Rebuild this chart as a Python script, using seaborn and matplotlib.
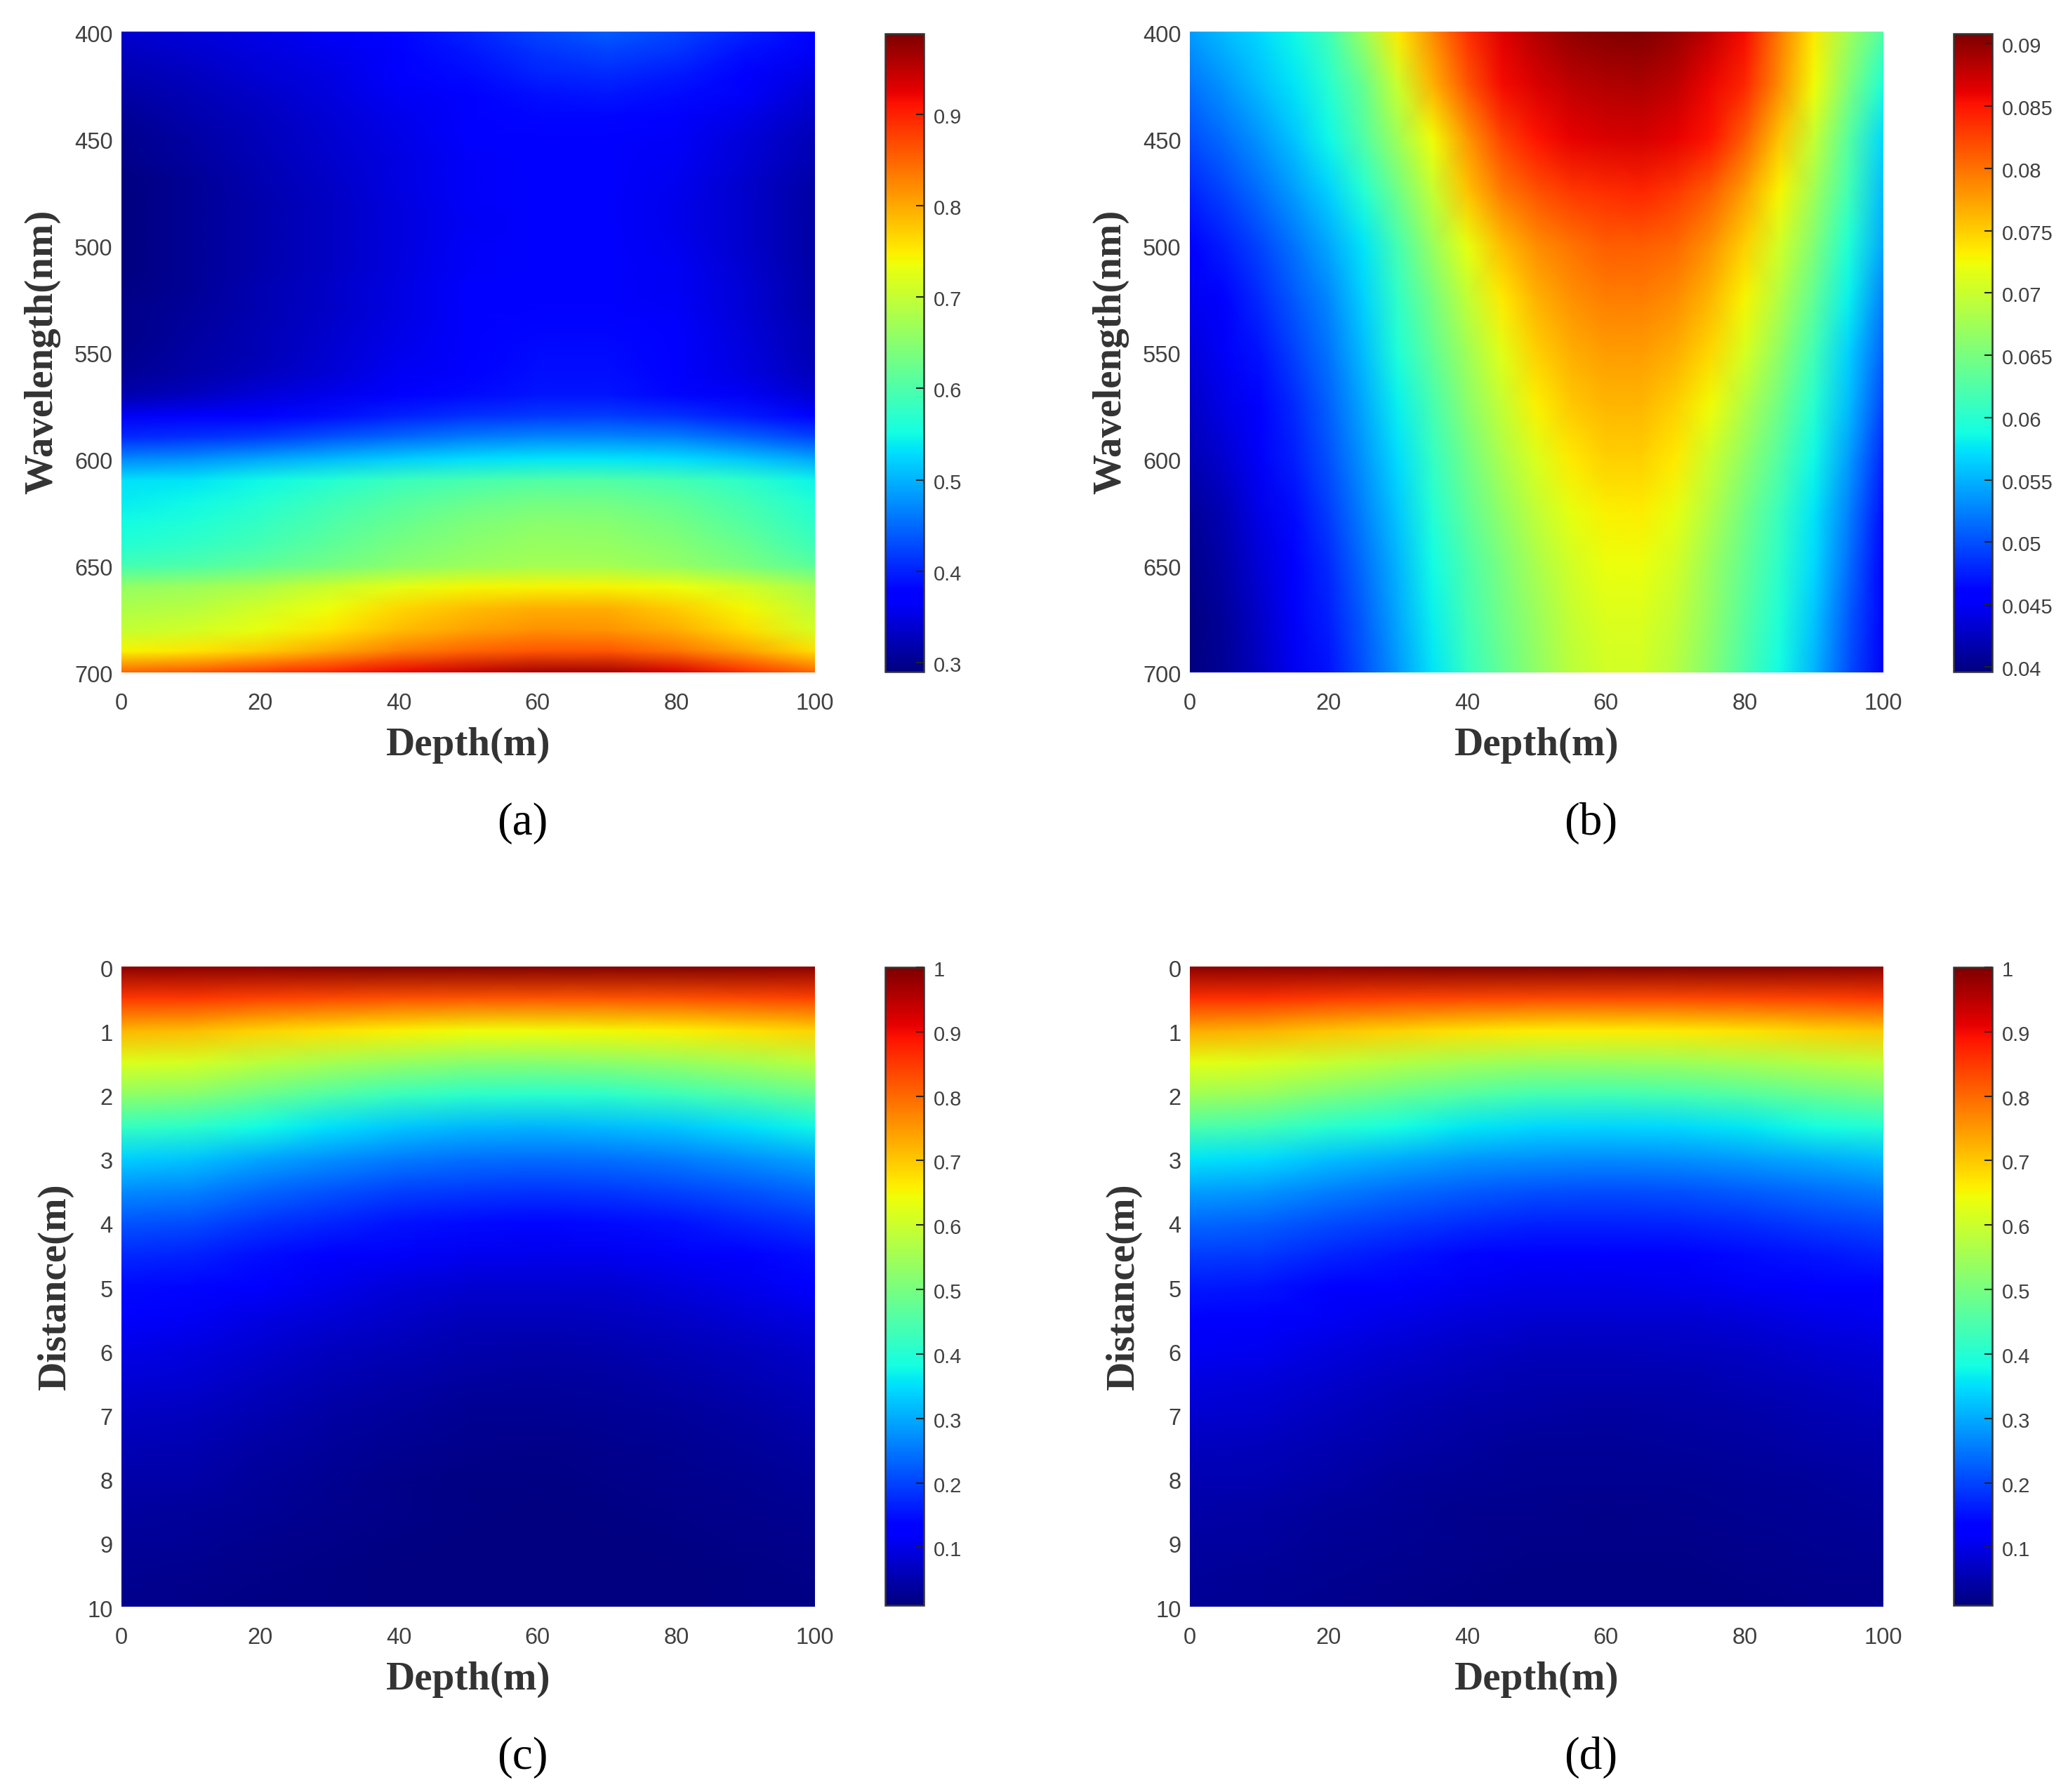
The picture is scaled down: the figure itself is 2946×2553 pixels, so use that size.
import matplotlib
matplotlib.use('Agg')
import matplotlib.pyplot as plt
from matplotlib.transforms import ScaledTranslation
import pandas as pd
import seaborn as sns

# depth columns of the panels
depth_10 = [0, 10, 20, 30, 40, 50, 60, 70, 80, 90, 100]
depth_5 = [0, 5, 10, 15, 20, 25, 30, 35, 40, 45, 50, 55, 60, 65, 70, 75, 80, 85, 90, 95, 100]

wavelength_a = [400, 410, 420, 430, 440, 450, 460, 470, 480, 490, 500, 510, 520, 530, 540, 550,
                560, 570, 580, 590, 600, 610, 620, 630, 640, 650, 660, 670, 680, 690, 700]
values_a = [
    [.340, .345, .355, .365, .380, .400, .425, .440, .425, .400, .372],
    [.330, .338, .348, .358, .374, .392, .412, .422, .410, .388, .362],
    [.320, .330, .342, .352, .367, .384, .400, .405, .395, .374, .350],
    [.312, .323, .336, .348, .362, .377, .388, .392, .384, .364, .340],
    [.306, .318, .330, .343, .358, .372, .380, .382, .374, .355, .332],
    [.300, .314, .327, .340, .354, .367, .376, .376, .366, .347, .325],
    [.296, .310, .324, .337, .352, .366, .373, .372, .361, .343, .320],
    [.292, .306, .321, .335, .350, .365, .371, .370, .359, .339, .316],
    [.290, .304, .319, .333, .349, .364, .370, .369, .358, .337, .314],
    [.290, .304, .318, .332, .348, .363, .370, .370, .358, .337, .313],
    [.291, .304, .318, .332, .348, .364, .371, .371, .359, .338, .312],
    [.292, .305, .319, .333, .348, .365, .373, .373, .361, .340, .313],
    [.294, .306, .320, .334, .350, .367, .376, .376, .363, .342, .315],
    [.296, .308, .321, .335, .352, .369, .378, .378, .365, .344, .317],
    [.298, .310, .323, .337, .354, .371, .380, .380, .367, .346, .320],
    [.300, .312, .325, .340, .357, .374, .383, .383, .370, .348, .322],
    [.304, .316, .330, .344, .362, .378, .386, .386, .374, .352, .326],
    [.318, .330, .345, .358, .372, .383, .392, .392, .381, .362, .340],
    [.362, .368, .378, .388, .400, .410, .418, .420, .412, .395, .378],
    [.405, .410, .420, .435, .450, .462, .470, .472, .465, .448, .425],
    [.470, .478, .490, .505, .518, .528, .535, .535, .528, .512, .490],
    [.530, .535, .548, .565, .582, .595, .603, .603, .592, .572, .545],
    [.540, .548, .565, .585, .605, .622, .632, .630, .615, .592, .560],
    [.550, .560, .578, .600, .622, .640, .650, .648, .632, .605, .572],
    [.565, .575, .592, .612, .635, .652, .662, .660, .645, .620, .587],
    [.590, .600, .615, .632, .650, .664, .672, .672, .660, .638, .610],
    [.660, .668, .680, .705, .728, .740, .745, .745, .735, .710, .675],
    [.680, .690, .710, .735, .765, .785, .795, .795, .775, .740, .695],
    [.700, .712, .730, .755, .785, .805, .818, .815, .795, .760, .715],
    [.745, .755, .775, .800, .830, .850, .862, .860, .840, .805, .760],
    [.850, .860, .880, .900, .920, .945, .965, .965, .935, .890, .850],
]

wavelength_b = [400, 425, 450, 475, 500, 525, 550, 575, 600, 625, 650, 675, 700]
values_b = [
    [.0540, .0555, .0570, .0585, .0615, .0670, .0735, .0785, .0835, .0865, .0885, .0900, .0906, .0908, .0897, .0878, .0855, .0795, .0735, .0675, .0625],
    [.0520, .0535, .0555, .0575, .0600, .0640, .0700, .0765, .0815, .0855, .0868, .0878, .0885, .0887, .0878, .0860, .0840, .0785, .0725, .0655, .0595],
    [.0500, .0515, .0535, .0560, .0585, .0625, .0675, .0725, .0780, .0825, .0852, .0862, .0868, .0870, .0862, .0852, .0810, .0755, .0698, .0630, .0570],
    [.0480, .0495, .0515, .0540, .0565, .0598, .0645, .0698, .0755, .0795, .0818, .0830, .0838, .0840, .0832, .0810, .0775, .0730, .0675, .0615, .0555],
    [.0460, .0475, .0495, .0520, .0545, .0575, .0620, .0670, .0720, .0760, .0785, .0800, .0810, .0812, .0805, .0782, .0750, .0705, .0655, .0595, .0545],
    [.0448, .0462, .0482, .0505, .0530, .0565, .0605, .0650, .0695, .0735, .0765, .0782, .0792, .0794, .0785, .0762, .0730, .0685, .0635, .0580, .0525],
    [.0438, .0452, .0470, .0493, .0520, .0555, .0595, .0635, .0675, .0716, .0748, .0767, .0777, .0777, .0767, .0745, .0710, .0665, .0615, .0565, .0510],
    [.0428, .0442, .0460, .0482, .0510, .0545, .0582, .0620, .0660, .0698, .0732, .0752, .0762, .0762, .0748, .0724, .0685, .0645, .0600, .0555, .0495],
    [.0420, .0433, .0452, .0475, .0502, .0535, .0572, .0608, .0645, .0680, .0712, .0735, .0750, .0748, .0735, .0702, .0665, .0628, .0585, .0540, .0480],
    [.0408, .0422, .0442, .0465, .0492, .0525, .0562, .0598, .0632, .0665, .0695, .0718, .0732, .0733, .0718, .0685, .0648, .0612, .0575, .0525, .0468],
    [.0402, .0415, .0435, .0458, .0482, .0515, .0552, .0588, .0622, .0652, .0682, .0706, .0722, .0722, .0705, .0672, .0638, .0603, .0568, .0515, .0460],
    [.0398, .0410, .0430, .0452, .0475, .0508, .0545, .0582, .0615, .0645, .0672, .0698, .0712, .0712, .0695, .0665, .0630, .0595, .0560, .0505, .0455],
    [.0396, .0407, .0425, .0448, .0470, .0502, .0538, .0575, .0608, .0638, .0665, .0690, .0705, .0705, .0688, .0658, .0622, .0588, .0552, .0500, .0450],
]

distance = [0, .5, 1, 1.5, 2, 2.5, 3, 3.5, 4, 4.5, 5, 5.5, 6, 6.5, 7, 7.5, 8, 8.5, 9, 9.5, 10]
values_c = [
    [.99, .99, .99, .995, 1, 1, 1, 1, 1, .995, .99],
    [.85, .85, .84, .83, .825, .82, .82, .82, .825, .83, .84],
    [.72, .7125, .69, .673, .658, .647, .645, .649, .658, .673, .69],
    [.62, .61, .582, .558, .537, .523, .52, .525, .538, .558, .58],
    [.53, .518, .483, .453, .426, .409, .405, .411, .428, .453, .48],
    [.42, .409, .378, .352, .329, .313, .31, .316, .33, .352, .376],
    [.335, .326, .299, .276, .256, .243, .24, .245, .257, .276, .297],
    [.27, .262, .238, .217, .199, .188, .185, .189, .2, .217, .236],
    [.215, .208, .187, .169, .153, .142, .14, .144, .153, .169, .185],
    [.175, .168, .148, .132, .117, .107, .105, .109, .118, .132, .147],
    [.145, .139, .12, .105, .091, .082, .08, .083, .092, .105, .119],
    [.12, .114, .098, .084, .072, .064, .062, .065, .072, .084, .097],
    [.1, .095, .08, .068, .057, .05, .048, .051, .057, .068, .079],
    [.085, .08, .067, .055, .045, .038, .037, .039, .046, .055, .066],
    [.07, .066, .054, .044, .035, .029, .028, .03, .036, .044, .053],
    [.058, .054, .044, .035, .027, .022, .021, .023, .028, .035, .043],
    [.048, .045, .036, .028, .021, .017, .016, .018, .022, .028, .035],
    [.04, .037, .03, .023, .018, .014, .013, .014, .018, .023, .029],
    [.033, .031, .025, .019, .015, .012, .011, .012, .015, .019, .024],
    [.027, .025, .021, .016, .013, .011, .01, .011, .013, .016, .02],
    [.022, .021, .017, .015, .012, .01, .01, .011, .012, .015, .017],
]
values_d = [
    [.99, .99, .99, .995, 1, 1, 1, 1, 1, .995, .99],
    [.86, .857, .849, .841, .835, .831, .83, .832, .835, .841, .847],
    [.73, .723, .703, .687, .672, .662, .66, .664, .673, .687, .699],
    [.63, .621, .596, .574, .555, .543, .54, .545, .556, .574, .59],
    [.55, .539, .506, .479, .455, .438, .435, .441, .456, .479, .498],
    [.45, .439, .408, .382, .359, .343, .34, .346, .36, .382, .4],
    [.355, .347, .323, .302, .284, .273, .27, .274, .285, .302, .317],
    [.29, .282, .26, .24, .224, .212, .21, .214, .224, .24, .254],
    [.235, .228, .208, .192, .177, .167, .165, .169, .178, .192, .204],
    [.195, .189, .17, .155, .141, .132, .13, .133, .142, .155, .166],
    [.16, .154, .137, .123, .11, .102, .1, .103, .111, .123, .133],
    [.135, .13, .114, .101, .089, .082, .08, .083, .09, .101, .11],
    [.113, .108, .094, .081, .071, .064, .062, .065, .071, .081, .09],
    [.095, .09, .078, .067, .058, .051, .05, .052, .058, .067, .075],
    [.08, .076, .065, .055, .047, .041, .04, .042, .047, .055, .062],
    [.067, .064, .054, .045, .038, .033, .032, .034, .038, .045, .051],
    [.056, .053, .045, .037, .031, .027, .026, .028, .031, .037, .043],
    [.047, .044, .037, .031, .025, .022, .021, .022, .026, .031, .035],
    [.04, .038, .032, .026, .022, .019, .018, .019, .022, .026, .03],
    [.034, .032, .027, .022, .018, .016, .015, .016, .018, .022, .025],
    [.03, .028, .024, .02, .017, .015, .014, .015, .017, .02, .023],
]

depth_ticks = [0, 20, 40, 60, 80, 100]
wavelength_ticks = [400, 450, 500, 550, 600, 650, 700]
distance_ticks = [0, 1, 2, 3, 4, 5, 6, 7, 8, 9, 10]

cbar_ticks_a = [.3, .4, .5, .6, .7, .8, .9]
cbar_labels_a = ['0.3', '0.4', '0.5', '0.6', '0.7', '0.8', '0.9']
cbar_ticks_b = [.04, .045, .05, .055, .06, .065, .07, .075, .08, .085, .09]
cbar_labels_b = ['0.04', '0.045', '0.05', '0.055', '0.06', '0.065', '0.07', '0.075', '0.08', '0.085', '0.09']
cbar_ticks_cd = [.1, .2, .3, .4, .5, .6, .7, .8, .9, 1]
cbar_labels_cd = ['0.1', '0.2', '0.3', '0.4', '0.5', '0.6', '0.7', '0.8', '0.9', '1']

W, H = 2946, 2553
fig = plt.figure(figsize=(W / 100, H / 100), dpi=100, facecolor='white')


def box(x0, y0, x1, y1):
    return fig.add_axes([x0 / W, 1 - y1 / H, (x1 - x0) / W, (y1 - y0) / H])


def shift_down(labels, px):
    # reference labels sit a little under their ticks
    for t in labels:
        t.set_family('Liberation Sans')
        t.set_transform(t.get_transform() + ScaledTranslation(0, -px / 100, fig.dpi_scale_trans))


def panel(values, depth, rows, row_ticks, ylabel, vmin, vmax, ticks, labels, x0, y0, y1, cb_y0, cb_y1, letter):
    ax = box(x0, y0, x0 + 988, y1)
    cax = box(x0 + 1088, cb_y0, x0 + 1143, cb_y1)
    table = pd.DataFrame(values, index=rows, columns=depth)
    sns.heatmap(table, ax=ax, cbar_ax=cax, cmap='jet', vmin=vmin, vmax=vmax, shading='gouraud',
                cbar_kws={'ticks': ticks})
    ax.set_xlim(0, len(depth) - 1)
    ax.set_ylim(len(rows) - 1, 0)
    ax.set_xticks([depth.index(v) for v in depth_ticks], labels=depth_ticks, rotation=0)
    ax.set_yticks([rows.index(v) for v in row_ticks], labels=row_ticks, rotation=0)
    ax.tick_params(length=0, labelsize=23.5, labelcolor='#404040')
    ax.tick_params(axis='x', pad=20.7)
    ax.tick_params(axis='y', pad=9)
    for t in ax.get_xticklabels():
        t.set_family('Liberation Sans')
    shift_down(ax.get_yticklabels(), 6)
    ax.set_xlabel('Depth(m)', family='Liberation Serif', weight='bold', size=41, color='#333333', va='center')
    ax.set_ylabel(ylabel, family='Liberation Serif', weight='bold', size=41, color='#333333', va='center')
    ax.xaxis.set_label_coords(0.5, -104 / (y1 - y0))
    ax.yaxis.set_label_coords((113 if len(ylabel) > 12 else 94) / -988, 0.5)

    cb = ax.collections[0].colorbar
    cb.set_ticks(ticks, labels=labels)
    cb.outline.set_linewidth(1.8)
    cb.outline.set_edgecolor('#333333')
    cax.tick_params(direction='in', length=8, width=1.5, labelsize=21, labelcolor='#404040', pad=10, color='#222222')
    shift_down(cax.get_yticklabels(), 2)

    fig.text((x0 + 571) / W, 1 - (y1 + 215) / H, letter, family='Liberation Serif', size=47,
             ha='center', va='center', color='black')


panel(values_a, depth_10, wavelength_a, wavelength_ticks, 'Wavelength(nm)', .29, .988,
      cbar_ticks_a, cbar_labels_a, 173, 45, 958, 48, 957, '(a)')
panel(values_b, depth_5, wavelength_b, wavelength_ticks, 'Wavelength(nm)', .0396, .0908,
      cbar_ticks_b, cbar_labels_b, 1695, 45, 958, 48, 957, '(b)')
panel(values_c, depth_10, distance, distance_ticks, 'Distance(m)', .01, 1,
      cbar_ticks_cd, cbar_labels_cd, 173, 1377, 2289, 1378, 2287, '(c)')
panel(values_d, depth_10, distance, distance_ticks, 'Distance(m)', .01, 1,
      cbar_ticks_cd, cbar_labels_cd, 1695, 1377, 2289, 1378, 2287, '(d)')

fig.savefig('out.png', dpi=100, facecolor='white')
